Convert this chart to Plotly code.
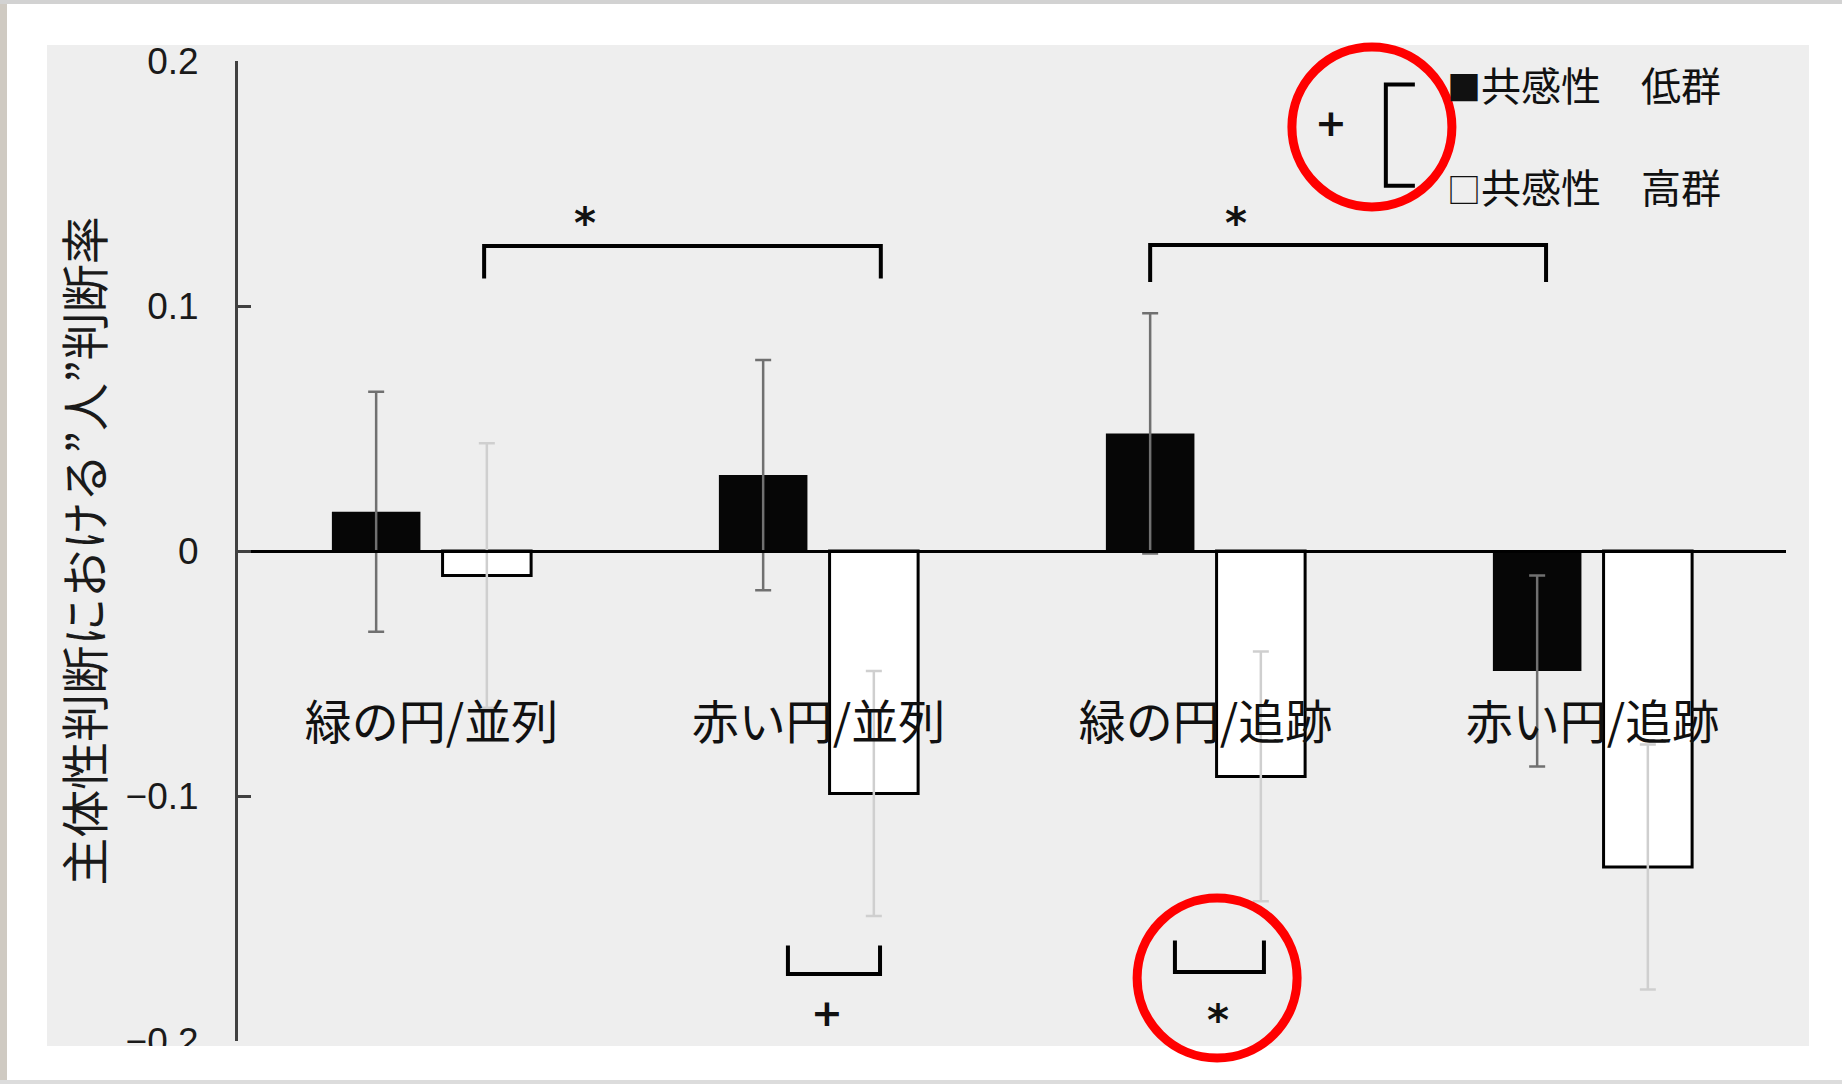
import plotly.graph_objects as go

# ---------------- data ----------------
categories = ["緑の円/並列", "赤い円/並列", "緑の円/追跡", "赤い円/追跡"]
low_name = "共感性　低群"
high_name = "共感性　高群"
low_mean = [0.016, 0.031, 0.048, -0.049]
low_err = [0.049, 0.047, 0.049, 0.039]
high_mean = [-0.010, -0.099, -0.092, -0.129]
high_err = [0.054, 0.050, 0.051, 0.050]
y_tickvals = [-0.2, -0.1, 0, 0.1, 0.2]
y_ticktext = ["−0.2", "−0.1", "0", "0.1", "0.2"]
y_title = "主体性判断における”人”判断率"

W, H = 1842, 1084
ML, MR, MT, MB = 238, 56, 61, 43
PW, PH = W - ML - MR, H - MT - MB
XR = (-0.5, 3.5)
YR = (-0.2, 0.2)

CJK = "Noto Sans CJK JP"
LAT = "Liberation Sans"


def px(c):
    return (c - XR[0]) / (XR[1] - XR[0])


def py(v):
    return (v - YR[0]) / (YR[1] - YR[0])


def fx(pxl):  # figure pixel -> paper x
    return (pxl - ML) / PW


def fy(pyl):  # figure pixel -> paper y
    return (H - MB - pyl) / PH


fig = go.Figure()
fig.add_trace(go.Bar(
    x=categories, y=low_mean, name=low_name,
    marker=dict(color="#060606", line=dict(color="#060606", width=0)),
    error_y=dict(type="data", array=low_err, color="#707070", thickness=2.5, width=8),
    showlegend=False,
))
fig.add_trace(go.Bar(
    x=categories, y=high_mean, name=high_name,
    marker=dict(color="#ffffff", line=dict(color="#000000", width=3)),
    error_y=dict(type="data", array=high_err, color="#cfcfcf", thickness=2.5, width=8),
    showlegend=False,
))

shapes = []
annotations = []

# chart-area background and screenshot borders
shapes.append(dict(type="rect", xref="paper", yref="paper", layer="below",
                   x0=fx(47), x1=fx(1809), y0=fy(1046), y1=fy(45),
                   fillcolor="#eeeeee", line=dict(width=0)))
shapes.append(dict(type="rect", xref="paper", yref="paper", layer="above",
                   x0=fx(40), x1=fx(1842), y0=fy(1084), y1=fy(1046),
                   fillcolor="#ffffff", line=dict(width=0)))
shapes.append(dict(type="rect", xref="paper", yref="paper", layer="above",
                   x0=fx(0), x1=fx(7), y0=fy(1084), y1=fy(0),
                   fillcolor="#cfcac2", line=dict(width=0)))
shapes.append(dict(type="rect", xref="paper", yref="paper", layer="above",
                   x0=fx(0), x1=fx(1842), y0=fy(4), y1=fy(0),
                   fillcolor="#d2d2d2", line=dict(width=0)))
shapes.append(dict(type="rect", xref="paper", yref="paper", layer="above",
                   x0=fx(0), x1=fx(1842), y0=fy(1084), y1=fy(1080),
                   fillcolor="#dcdcdc", line=dict(width=0)))


def bracket(c0, c1, vbar, vleg):
    x0, x1 = px(c0), px(c1)
    y0, y1 = py(vbar), py(vleg)
    shapes.append(dict(type="path", xref="paper", yref="paper", layer="above",
                       path=f"M {x0},{y1} L {x0},{y0} L {x1},{y0} L {x1},{y1}",
                       line=dict(color="#000000", width=4)))


def mark(c, v, t, size=44, bold=False):
    txt = f"<b>{t}</b>" if bold else t
    annotations.append(dict(x=px(c), y=py(v), xref="paper", yref="paper",
                            text=txt, showarrow=False, xanchor="center", yanchor="middle",
                            font=dict(family="DejaVu Sans", size=size, color="#111111")))


# significance brackets
bracket(0.136, 1.161, 0.1245, 0.1112)
mark(0.397, 0.1335, "*", 42, True)
bracket(1.857, 2.880, 0.1249, 0.1098)
mark(2.079, 0.1335, "*", 42, True)
bracket(0.921, 1.159, -0.1727, -0.161)
mark(1.022, -0.1886, "+", 38, True)
bracket(1.921, 2.151, -0.1718, -0.159)
mark(2.032, -0.1918, "*", 42, True)
# bracket next to legend
lx0, lx1 = px(2.466), px(2.541)
ly0, ly1 = py(0.1904), py(0.1491)
shapes.append(dict(type="path", xref="paper", yref="paper", layer="above",
                   path=f"M {lx1},{ly0} L {lx0},{ly0} L {lx0},{ly1} L {lx1},{ly1}",
                   line=dict(color="#000000", width=4)))
mark(2.324, 0.1747, "+", 38, True)

# legend (text)
for sym, name, vv in [("■", low_name, 0.1908), ("□", high_name, 0.149)]:
    annotations.append(dict(x=px(2.62), y=py(vv), xref="paper", yref="paper",
                            text=f"<span style='font-size:34px'>{sym}</span>{name}",
                            showarrow=False, xanchor="left", yanchor="middle",
                            font=dict(family=CJK, size=40, color="#111111")))

# red highlight circles
r_c, r_v = 80 / (PW / 4), 80 / (PH / 0.4)
for cc, vv in [(2.43, 0.1731), (2.03, -0.1743)]:
    shapes.append(dict(type="circle", xref="paper", yref="paper", layer="above",
                       x0=px(cc - r_c), x1=px(cc + r_c), y0=py(vv - r_v), y1=py(vv + r_v),
                       line=dict(color="#ff0000", width=9)))

fig.update_layout(
    width=W, height=H,
    margin=dict(l=ML, r=MR, t=MT, b=MB, autoexpand=False),
    paper_bgcolor="#ffffff", plot_bgcolor="#eeeeee",
    barmode="group", bargap=0.428, bargroupgap=0.2,
    shapes=shapes, annotations=annotations,
    xaxis=dict(
        type="category", range=list(XR), anchor="free", position=0.5,
        showline=True, linecolor="#000000", linewidth=3,
        ticks="", showgrid=False, zeroline=False,
        tickfont=dict(family=CJK, size=47, color="#111111"),
        ticklabelstandoff=130,
    ),
    yaxis=dict(
        range=list(YR), tickvals=y_tickvals, ticktext=y_ticktext,
        showline=True, linecolor="#404040", linewidth=3,
        ticks="inside", ticklen=13, tickwidth=3, tickcolor="#404040",
        showgrid=False, zeroline=False,
        tickfont=dict(family=LAT, size=37, color="#1a1a1a"),
        ticklabelstandoff=29,
        title=dict(text=y_title, font=dict(family=CJK, size=48, color="#1a1a1a"), standoff=7),
    ),
)

fig.write_html("out.html", config={"displayModeBar": False},
               post_script="document.body.style.margin='0';document.body.style.overflow='hidden';")
